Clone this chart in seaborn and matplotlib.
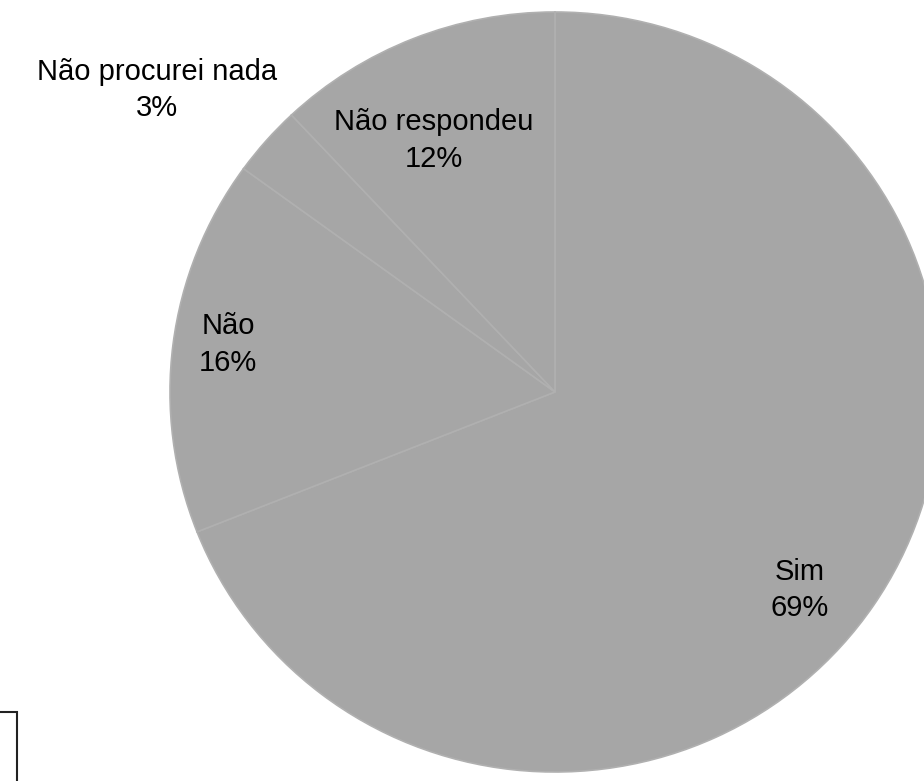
import matplotlib
matplotlib.use("Agg")
import matplotlib.pyplot as plt
import seaborn as sns
from matplotlib.patches import Rectangle

categories = ["Sim", "Não", "Não procurei nada", "Não respondeu"]
values = [69, 16, 3, 12]
label_text = ["Sim\n69%", "Não\n16%", "Não procurei nada\n3%", "Não respondeu\n12%"]
label_pos = [(0.636, -0.521), (-0.849, 0.124), (-1.034, 0.795), (-0.314, 0.661)]

sns.set_theme(style="white")
plt.rcParams['font.family'] = ['Liberation Sans', 'DejaVu Sans']

W, H = 924, 781
fig = plt.figure(figsize=(W / 100, H / 100), dpi=100)
cx, cy, rx, ry = 555, 392, 385, 380
ax = fig.add_axes([(cx - rx) / W, (H - cy - ry) / H, 2 * rx / W, 2 * ry / H])
ax.axis('off')

colors = sns.color_palette(["#a6a6a6"] * len(values))
wedges, _ = ax.pie(values, colors=colors, startangle=90, counterclock=False,
                   radius=1.0, wedgeprops=dict(edgecolor="#b0b0b0", linewidth=1.2))
ax.set_aspect('auto')
ax.set_xlim(-1, 1)
ax.set_ylim(-1, 1)
for w in wedges:
    w.set_clip_on(False)

for txt, (x, y) in zip(label_text, label_pos):
    ax.text(x, y, txt, ha='center', va='center', fontsize=21, color='black',
            linespacing=1.4, clip_on=False)

fig.patches.append(Rectangle((-10 / W, -10 / H), 26.5 / W, (H - 712 + 10) / H,
                             transform=fig.transFigure, fill=False,
                             edgecolor='#222222', linewidth=1.5))

fig.savefig("out.png", dpi=100, facecolor='white')
